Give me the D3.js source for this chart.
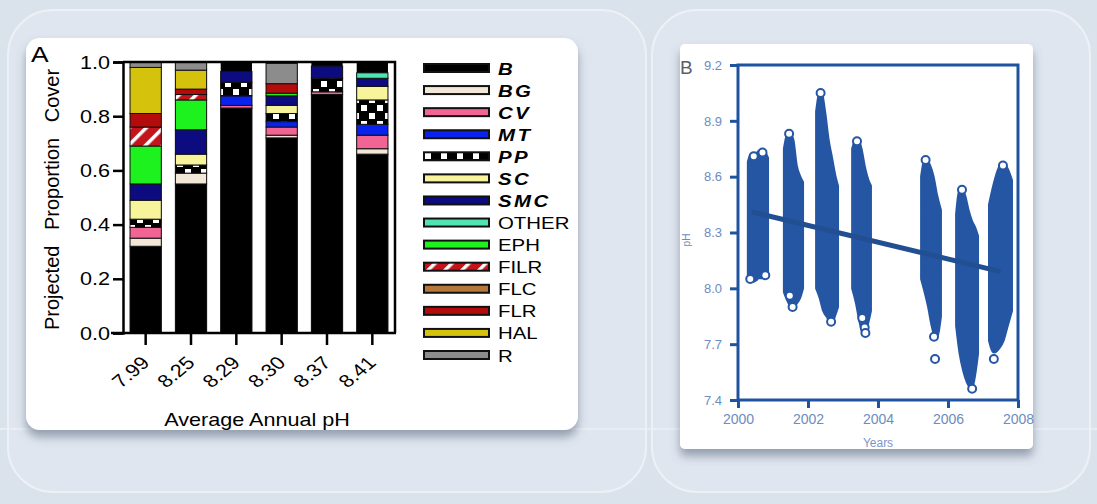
<!DOCTYPE html>
<html>
<head>
<meta charset="utf-8">
<script src="https://cdn.jsdelivr.net/npm/d3@7"></script>
<style>
    html, body { margin: 0; padding: 0; background: #dce4ee; }
    svg { display: block; }
</style>
</head>
<body>
<div id="chart"></div>
<script>

// panel A: projected proportion cover per site, stacked bottom to top

var sitePh = [ '7.99', '8.25', '8.29', '8.30', '8.37', '8.41' ];
var coverKeys = [ 'B', 'BG', 'CV', 'MT', 'PP', 'SC', 'SMC', 'OTHER', 'EPH', 'FILR', 'FLC', 'FLR', 'HAL', 'R' ];

var coverB     = [ 0.32, 0.55, 0.83,  0.72,  0.88,  0.66 ];
var coverBG    = [ 0.03, 0.04, 0,     0.01,  0,     0.02 ];
var coverCV    = [ 0.04, 0,    0.01,  0.03,  0.01,  0.05 ];
var coverMT    = [ 0,    0,    0.035, 0.02,  0,     0.04 ];
var coverPP    = [ 0.03, 0.03, 0.05,  0.03,  0.05,  0.09 ];
var coverSC    = [ 0.07, 0.04, 0,     0.03,  0,     0.05 ];
var coverSMC   = [ 0.06, 0.09, 0.04,  0.035, 0.045, 0.03 ];
var coverOTHER = [ 0,    0,    0,     0,     0,     0.02 ];
var coverEPH   = [ 0.14, 0.11, 0,     0.01,  0,     0 ];
var coverFILR  = [ 0.07, 0.02, 0,     0,     0,     0 ];
var coverFLC   = [ 0,    0,    0,     0,     0,     0 ];
var coverFLR   = [ 0.05, 0.02, 0,     0.035, 0,     0 ];
var coverHAL   = [ 0.17, 0.07, 0,     0,     0,     0 ];
var coverR     = [ 0.02, 0.03, 0,     0.075, 0,     0 ];

var coverTicks = [ 0, 0.2, 0.4, 0.6, 0.8, 1.0 ];

// panel B: pH surveys, each column is [ year, lowest pH, highest pH ]

var survey2000 = [ [2000.31, 8.06, 8.68], [2000.40, 8.04, 8.72], [2000.52, 8.05, 8.70], [2000.58, 8.06, 8.73], [2000.70, 8.06, 8.74], [2000.83, 8.08, 8.70] ];
var survey2001 = [ [2001.34, 7.98, 8.75], [2001.45, 7.93, 8.83], [2001.55, 7.90, 8.80], [2001.65, 7.92, 8.66], [2001.75, 7.95, 8.60], [2001.83, 8.00, 8.57] ];
var survey2002 = [ [2002.26, 8.00, 8.95], [2002.36, 7.95, 9.05], [2002.46, 7.88, 8.95], [2002.56, 7.85, 8.80], [2002.66, 7.82, 8.70], [2002.76, 7.86, 8.60], [2002.83, 7.90, 8.55] ];
var survey2003 = [ [2003.29, 8.00, 8.75], [2003.40, 7.92, 8.80], [2003.50, 7.82, 8.75], [2003.60, 7.76, 8.65], [2003.70, 7.82, 8.58], [2003.77, 7.88, 8.55] ];
var survey2005 = [ [2005.26, 8.05, 8.60], [2005.36, 7.98, 8.69], [2005.46, 7.90, 8.66], [2005.56, 7.80, 8.60], [2005.66, 7.74, 8.50], [2005.77, 7.85, 8.42] ];
var survey2006 = [ [2006.26, 7.80, 8.40], [2006.36, 7.65, 8.53], [2006.46, 7.56, 8.50], [2006.56, 7.50, 8.42], [2006.66, 7.47, 8.36], [2006.76, 7.55, 8.32], [2006.83, 7.65, 8.28] ];
var survey2007 = [ [2007.20, 7.72, 8.45], [2007.32, 7.66, 8.55], [2007.44, 7.68, 8.63], [2007.56, 7.72, 8.67], [2007.68, 7.80, 8.64], [2007.80, 7.88, 8.58] ];

var extremeYear = [ 2000.45, 2000.70, 2000.35, 2000.78, 2001.46, 2001.48, 2001.56, 2002.36, 2002.66, 2003.40, 2003.55, 2003.62, 2003.64, 2005.36, 2005.60, 2005.63, 2006.40, 2006.69, 2007.57, 2007.31 ];
var extremePh   = [ 8.71,    8.73,    8.05,    8.07,    8.83,    7.96,    7.90,    9.05,    7.82,    8.79,    7.84,    7.79,    7.76,    8.69,    7.74,    7.62,    8.53,    7.46,    8.66,    7.62 ];

var trendYear = [ 2000.4, 2007.5 ];
var trendPh   = [ 8.41, 8.09 ];

var phTicks   = [ 7.4, 7.7, 8.0, 8.3, 8.6, 8.9, 9.2 ];
var yearTicks = [ 2000, 2002, 2004, 2006, 2008 ];

var coverColors = {
    B: '#000000', BG: '#f3e7d8', CV: '#f06594', MT: '#0a22ee', PP: 'url(#pp)', SC: '#f8f49c',
    SMC: '#0c0c80', OTHER: '#52e3b4', EPH: '#1ef21e', FILR: 'url(#filr)', FLC: '#b5773a',
    FLR: '#b40b0b', HAL: '#d4c20c', R: '#8c8c8c'
};

var font = "'Liberation Sans', Arial, sans-serif";
var blue = '#2556a3';

var width = 1097,
    height = 504;

var svg = d3.select('#chart').append('svg')
    .attr('width', width)
    .attr('height', height);

var defs = svg.append('defs');

var shadow = defs.append('filter')
    .attr('id', 'shadow')
    .attr('x', '-10%').attr('y', '-10%')
    .attr('width', '120%').attr('height', '125%');

shadow.append('feDropShadow')
    .attr('dx', 0)
    .attr('dy', 7)
    .attr('stdDeviation', 5)
    .attr('flood-color', '#56657a')
    .attr('flood-opacity', 0.55);

// hatched red for FILR

var filr = defs.append('pattern')
    .attr('id', 'filr')
    .attr('patternUnits', 'userSpaceOnUse')
    .attr('width', 12)
    .attr('height', 12)
    .attr('patternTransform', 'rotate(45)');

filr.append('rect').attr('width', 12).attr('height', 12).attr('fill', '#c3141c');
filr.append('rect').attr('width', 3.5).attr('height', 12).attr('fill', '#ffffff');

// black and white squares for PP

var pp = defs.append('pattern')
    .attr('id', 'pp')
    .attr('patternUnits', 'userSpaceOnUse')
    .attr('width', 16)
    .attr('height', 16);

pp.append('rect').attr('width', 16).attr('height', 16).attr('fill', '#000');
pp.append('rect').attr('x', 1).attr('y', 1).attr('width', 6).attr('height', 6).attr('fill', '#fff');
pp.append('rect').attr('x', 9).attr('y', 9).attr('width', 6).attr('height', 6).attr('fill', '#fff');

// background frames

svg.append('rect')
    .attr('width', width)
    .attr('height', height)
    .attr('fill', '#dae2ec');

svg.append('rect')
    .attr('x', 8).attr('y', 10)
    .attr('width', 638).attr('height', 482)
    .attr('rx', 45)
    .attr('fill', '#dfe6ef')
    .attr('stroke', '#edf1f6')
    .attr('stroke-width', 2);

svg.append('rect')
    .attr('x', 652).attr('y', 10)
    .attr('width', 438).attr('height', 482)
    .attr('rx', 45)
    .attr('fill', '#dfe6ef')
    .attr('stroke', '#edf1f6')
    .attr('stroke-width', 2);

svg.append('line')
    .attr('x1', 0).attr('x2', width)
    .attr('y1', 429).attr('y2', 429)
    .attr('stroke', '#edf1f6')
    .attr('stroke-width', 1.5);

svg.append('rect')
    .attr('x', 26).attr('y', 38)
    .attr('width', 552).attr('height', 392)
    .attr('rx', 14)
    .attr('fill', '#ffffff')
    .attr('filter', 'url(#shadow)');

svg.append('rect')
    .attr('x', 680).attr('y', 44)
    .attr('width', 353).attr('height', 405)
    .attr('rx', 5)
    .attr('fill', '#ffffff')
    .attr('filter', 'url(#shadow)');

// stretched text, the figure is wider than its font

function wideText ( parent, x, y, str, size, anchor ) {

    return parent.append('text')
        .attr('transform', 'translate(' + x + ',' + y + ') scale(1.2,1)')
        .attr('text-anchor', anchor || 'start')
        .style('font-family', font)
        .style('font-size', size + 'px')
        .attr('fill', '#000')
        .text( str );

}

// panel A

var gA = svg.append('g');

var table = sitePh.map( function ( ph, i ) {
    return {
        site: ph,
        B: coverB[i], BG: coverBG[i], CV: coverCV[i], MT: coverMT[i], PP: coverPP[i],
        SC: coverSC[i], SMC: coverSMC[i], OTHER: coverOTHER[i], EPH: coverEPH[i],
        FILR: coverFILR[i], FLC: coverFLC[i], FLR: coverFLR[i], HAL: coverHAL[i], R: coverR[i]
    };
});

var xA = d3.scaleBand()
    .domain( sitePh )
    .range([ 123, 395 ])
    .paddingInner( 0.31 )
    .paddingOuter( 0.155 );

var yA = d3.scaleLinear()
    .domain([ 0, 1 ])
    .range([ 333, 62 ]);

var stack = d3.stack().keys( coverKeys );

// black column behind each bar, the uncovered remainder shows as black

gA.selectAll('.col')
    .data( sitePh )
    .enter().append('rect')
    .attr('class', 'col')
    .attr('x', function ( d ) { return xA( d ) })
    .attr('y', yA( 1 ))
    .attr('width', xA.bandwidth())
    .attr('height', yA( 0 ) - yA( 1 ))
    .attr('fill', '#000');

var layer = gA.selectAll('.layer')
    .data( stack( table ) )
    .enter().append('g')
    .attr('class', 'layer')
    .attr('fill', function ( d ) { return coverColors[ d.key ] });

layer.selectAll('rect')
    .data( function ( d ) { return d.filter( function ( s ) { return s[1] - s[0] > 0 }) })
    .enter().append('rect')
    .attr('x', function ( d ) { return xA( d.data.site ) })
    .attr('y', function ( d ) { return yA( d[1] ) })
    .attr('width', xA.bandwidth())
    .attr('height', function ( d ) { return yA( d[0] ) - yA( d[1] ) })
    .attr('stroke', '#111')
    .attr('stroke-width', 1);

// axes and frame

var axisLeft = gA.append('g')
    .attr('transform', 'translate(123,0)')
    .call( d3.axisLeft( yA ).tickValues( coverTicks ).tickSize( 10 ).tickFormat('') );

var axisBottom = gA.append('g')
    .attr('transform', 'translate(0,333)')
    .call( d3.axisBottom( xA ).tickSize( 12 ).tickFormat('') );

axisBottom.select('.domain').attr('d', 'M111,0H396');

[ axisLeft, axisBottom ].forEach( function ( a ) {
    a.selectAll('path, line')
        .attr('stroke', '#000')
        .attr('stroke-width', 2.5);
});

gA.append('path')
    .attr('d', 'M123,' + yA( 1 ) + 'H395V' + yA( 0 ))
    .attr('fill', 'none')
    .attr('stroke', '#000')
    .attr('stroke-width', 2.5);

coverTicks.forEach( function ( t ) {
    wideText( gA, 110, yA( t ) + 6.5, d3.format('.1f')( t ), 18, 'end' );
});

sitePh.forEach( function ( ph ) {
    var cx = xA( ph ) + xA.bandwidth() / 2;
    gA.append('text')
        .attr('transform', 'translate(' + ( cx + 5 ) + ',364) scale(1.2,1) rotate(-45)')
        .attr('text-anchor', 'end')
        .style('font-family', font)
        .style('font-size', '18px')
        .text( ph );
});

wideText( gA, 257, 426, 'Average Annual pH', 18, 'middle' );
wideText( gA, 31, 62, 'A', 22 );

gA.append('text')
    .attr('transform', 'translate(59,' + ( ( yA( 0 ) + yA( 1 ) ) / 2 + 2 ) + ') rotate(-90)')
    .attr('text-anchor', 'middle')
    .style('font-family', font)
    .style('font-size', '20px')
    .style('word-spacing', '10px')
    .text('Projected Proportion Cover');

// legend

var legendY = d3.scalePoint()
    .domain( coverKeys )
    .range([ 68, 355 ]);

var legend = gA.selectAll('.legend')
    .data( coverKeys )
    .enter().append('g')
    .attr('class', 'legend');

legend.append('rect')
    .attr('x', 424)
    .attr('y', function ( d ) { return legendY( d ) - 4 })
    .attr('width', 65)
    .attr('height', 8)
    .attr('fill', function ( d ) { return coverColors[ d ] })
    .attr('stroke', '#111')
    .attr('stroke-width', 2);

legend.each( function ( d, i ) {
    var t = wideText( d3.select( this ), 498, legendY( d ) + 6.5, d, 17 );
    if ( i < 7 ) {
        t.style('font-weight', 'bold')
            .style('font-style', 'italic')
            .style('letter-spacing', '2px');
    }
});

// panel B

var gB = svg.append('g');

var xB = d3.scaleLinear()
    .domain([ 2000, 2008 ])
    .range([ 738, 1018 ]);

var yB = d3.scaleLinear()
    .domain([ 7.4, 9.2 ])
    .range([ 400, 65 ]);

var surveys = [ survey2000, survey2001, survey2002, survey2003, survey2005, survey2006, survey2007 ];

var band = d3.area()
    .x( function ( d ) { return xB( d[0] ) })
    .y0( function ( d ) { return yB( d[1] ) })
    .y1( function ( d ) { return yB( d[2] ) })
    .curve( d3.curveMonotoneX );

gB.selectAll('.survey')
    .data( surveys )
    .enter().append('path')
    .attr('class', 'survey')
    .attr('d', band)
    .attr('fill', blue)
    .attr('stroke', blue)
    .attr('stroke-width', 4)
    .attr('stroke-linejoin', 'round');

gB.selectAll('.extreme')
    .data( extremeYear )
    .enter().append('circle')
    .attr('class', 'extreme')
    .attr('cx', function ( d ) { return xB( d ) })
    .attr('cy', function ( d, i ) { return yB( extremePh[i] ) })
    .attr('r', 4)
    .attr('fill', '#fff')
    .attr('stroke', blue)
    .attr('stroke-width', 2);

gB.append('path')
    .datum( trendYear )
    .attr('d', d3.line()
        .x( function ( d ) { return xB( d ) })
        .y( function ( d, i ) { return yB( trendPh[i] ) }) )
    .attr('stroke', '#224f92')
    .attr('stroke-width', 5)
    .attr('fill', 'none');

gB.append('rect')
    .attr('x', xB( 2000 ))
    .attr('y', yB( 9.2 ))
    .attr('width', xB( 2008 ) - xB( 2000 ))
    .attr('height', yB( 7.4 ) - yB( 9.2 ))
    .attr('fill', 'none')
    .attr('stroke', '#1f53a0')
    .attr('stroke-width', 3);

var axisB1 = gB.append('g')
    .attr('transform', 'translate(' + xB( 2000 ) + ',0)')
    .call( d3.axisLeft( yB ).tickValues( phTicks ).tickSize( 8 ).tickFormat( d3.format('.1f') ).tickPadding( 8 ) );

var axisB2 = gB.append('g')
    .attr('transform', 'translate(0,' + yB( 7.4 ) + ')')
    .call( d3.axisBottom( xB ).tickValues( yearTicks ).tickSize( 8 ).tickFormat( d3.format('d') ).tickPadding( 6 ) );

[ axisB1, axisB2 ].forEach( function ( a ) {
    a.select('.domain').remove();
    a.selectAll('line')
        .attr('stroke', '#1f53a0')
        .attr('stroke-width', 3);
    a.selectAll('text')
        .attr('fill', '#6c8cc0')
        .style('font-family', font)
        .style('font-size', '13px');
});

axisB2.selectAll('text').style('font-size', '14px');

gB.append('text')
    .attr('x', 680)
    .attr('y', 74)
    .attr('fill', '#5a5f6a')
    .style('font-family', font)
    .style('font-size', '19px')
    .text('B');

gB.append('text')
    .attr('transform', 'translate(690,240) rotate(-90)')
    .attr('text-anchor', 'middle')
    .attr('fill', '#6c8cc0')
    .style('font-family', font)
    .style('font-size', '10px')
    .text('pH');

gB.append('text')
    .attr('x', xB( 2004 ))
    .attr('y', 447)
    .attr('text-anchor', 'middle')
    .attr('fill', '#7a96c4')
    .style('font-family', font)
    .style('font-size', '12px')
    .text('Years');

</script>
</body>
</html>
